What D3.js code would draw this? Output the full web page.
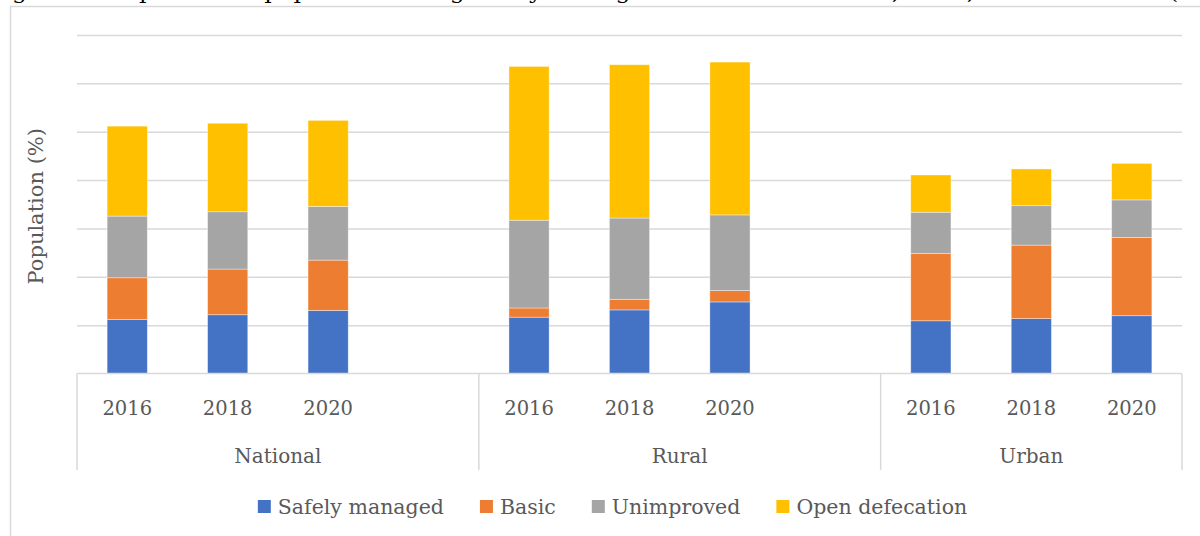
<!DOCTYPE html>
<html>
<head>
<meta charset="utf-8">
<script src="https://cdn.jsdelivr.net/npm/d3@7"></script>
<style>
body { margin: 0; background: #fff; }
svg { display: block; font-family: "DejaVu Serif", Georgia, serif; }
.grid line { stroke: #d9d9d9; stroke-width: 1.5px; }
.grid .domain { display: none; }
.lbl { fill: #595959; }
</style>
</head>
<body>
<svg id="chart" width="1200" height="536"></svg>
<script>

// data
var groups = ["National", "Rural", "Urban"];
var years = ["2016", "2018", "2020"];
var seriesNames = ["Safely managed", "Basic", "Unimproved", "Open defecation"];
var seriesColors = ["#4472c4", "#ed7d31", "#a5a5a5", "#ffc000"];

// one value per bar: National 2016-2020, Rural 2016-2020, Urban 2016-2020
var safelyManaged  = [22.4, 24.3, 26.1, 23.3, 26.3, 29.6, 21.8, 22.7, 23.9];
var basic          = [17.2, 18.9, 20.8,  3.8,  4.4,  4.7, 27.9, 30.4, 32.4];
var unimproved     = [25.5, 23.7, 22.2, 36.3, 33.6, 31.3, 17.0, 16.3, 15.5];
var openDefecation = [37.2, 36.6, 35.6, 63.6, 63.4, 63.2, 15.4, 15.2, 15.1];

var yTicks = [0, 20, 40, 60, 80, 100, 120, 140];

var title = "Figure 3 Proportion of population using safely managed sanitation services, 2016, 2018 and 2020 (%)";

var svg = d3.select("#chart");

var plotLeft = 77, plotRight = 1182, plotTop = 35, plotBottom = 373.5;

// rows for the stack
var rows = [];
groups.forEach(function(g, gi) {
    years.forEach(function(yr, yi) {
        var i = gi * years.length + yi;
        rows.push({
            key: g + "|" + yr,
            group: g,
            year: yr,
            "Safely managed": safelyManaged[i],
            "Basic": basic[i],
            "Unimproved": unimproved[i],
            "Open defecation": openDefecation[i]
        });
    });
});

// slots: each group has its years, plus an empty slot between groups
var slots = [];
groups.forEach(function(g, gi) {
    years.forEach(function(yr) { slots.push(g + "|" + yr); });
    if (gi < groups.length - 1) slots.push(g + "|gap");
});

var x = d3.scaleBand()
    .domain(slots)
    .range([plotLeft, plotRight])
    .paddingInner(0.6)
    .paddingOuter(0.3);

var y = d3.scaleLinear()
    .domain([0, 140])
    .range([plotBottom, plotTop]);

var color = d3.scaleOrdinal().domain(seriesNames).range(seriesColors);

// title, cut by the top edge as in the source image
svg.append("text")
    .attr("x", -12)
    .attr("y", -1)
    .attr("textLength", 1222)
    .attr("lengthAdjust", "spacingAndGlyphs")
    .style("font-size", "21px")
    .style("fill", "#000")
    .text(title);

// frame
svg.append("rect")
    .attr("x", 10.5)
    .attr("y", 6.5)
    .attr("width", 1220)
    .attr("height", 560)
    .style("fill", "none")
    .style("stroke", "#d9d9d9")
    .style("stroke-width", 1.5);

// gridlines
svg.append("g")
    .attr("class", "grid")
    .attr("transform", "translate(" + plotLeft + ",0)")
    .call(d3.axisLeft(y).tickValues(yTicks.slice(1)).tickSize(-(plotRight - plotLeft)).tickFormat(""));

// bars
var stack = d3.stack().keys(seriesNames);
var layers = stack(rows);

svg.append("g")
    .selectAll("g")
    .data(layers)
    .join("g")
    .attr("fill", function(d) { return color(d.key); })
    .selectAll("rect")
    .data(function(d) { return d; })
    .join("rect")
    .attr("x", function(d) { return x(d.data.key); })
    .attr("width", x.bandwidth())
    .attr("y", function(d) { return y(d[1]); })
    .attr("height", function(d) { return y(d[0]) - y(d[1]); })
    .style("stroke", "#fff")
    .style("stroke-opacity", 0.5)
    .style("stroke-width", 0.75);

// category axis
var axisColor = "#d9d9d9";
svg.append("line")
    .attr("x1", plotLeft).attr("x2", plotRight)
    .attr("y1", plotBottom).attr("y2", plotBottom)
    .style("stroke", axisColor).style("stroke-width", 1.5);

var step = x.step();
var groupEdges = [];
groups.forEach(function(g) {
    groupEdges.push(x(g + "|" + years[0]) - x.paddingOuter() * step);
});
groupEdges.push(plotRight);

svg.append("g")
    .selectAll("line")
    .data(groupEdges)
    .join("line")
    .attr("x1", function(d) { return d; })
    .attr("x2", function(d) { return d; })
    .attr("y1", plotBottom)
    .attr("y2", 470)
    .style("stroke", axisColor)
    .style("stroke-width", 1.5);

svg.append("g")
    .selectAll("text")
    .data(rows)
    .join("text")
    .attr("class", "lbl")
    .attr("x", function(d) { return x(d.key) + x.bandwidth() / 2; })
    .attr("y", 415)
    .attr("text-anchor", "middle")
    .style("font-size", "19.5px")
    .text(function(d) { return d.year; });

svg.append("g")
    .selectAll("text")
    .data(groups)
    .join("text")
    .attr("class", "lbl")
    .attr("x", function(d, i) { return (groupEdges[i] + groupEdges[i + 1]) / 2; })
    .attr("y", 463)
    .attr("text-anchor", "middle")
    .style("font-size", "20px")
    .text(function(d) { return d; });

// y axis title
svg.append("text")
    .attr("class", "lbl")
    .attr("transform", "translate(43," + ((plotTop + plotBottom) / 2 + 2) + ") rotate(-90)")
    .attr("text-anchor", "middle")
    .style("font-size", "21px")
    .text("Population (%)");

// legend
var legendGap = 36;
var legend = svg.append("g").attr("transform", "translate(0,507)");
var items = legend.selectAll("g")
    .data(seriesNames)
    .join("g");

items.append("rect")
    .attr("x", 0)
    .attr("y", -7)
    .attr("width", 13)
    .attr("height", 13)
    .attr("fill", function(d) { return color(d); });

items.append("text")
    .attr("class", "lbl")
    .attr("x", 20)
    .attr("y", 7)
    .style("font-size", "20.5px")
    .text(function(d) { return d; });

var offsets = [], cur = 0;
items.each(function(d) {
    offsets.push(cur);
    var w = d3.select(this).select("text").node().getComputedTextLength();
    cur += 20 + w + legendGap;
});
var total = cur - legendGap;
var start = 612.5 - total / 2;
items.attr("transform", function(d, i) { return "translate(" + (start + offsets[i]) + ",0)"; });

</script>
</body>
</html>
